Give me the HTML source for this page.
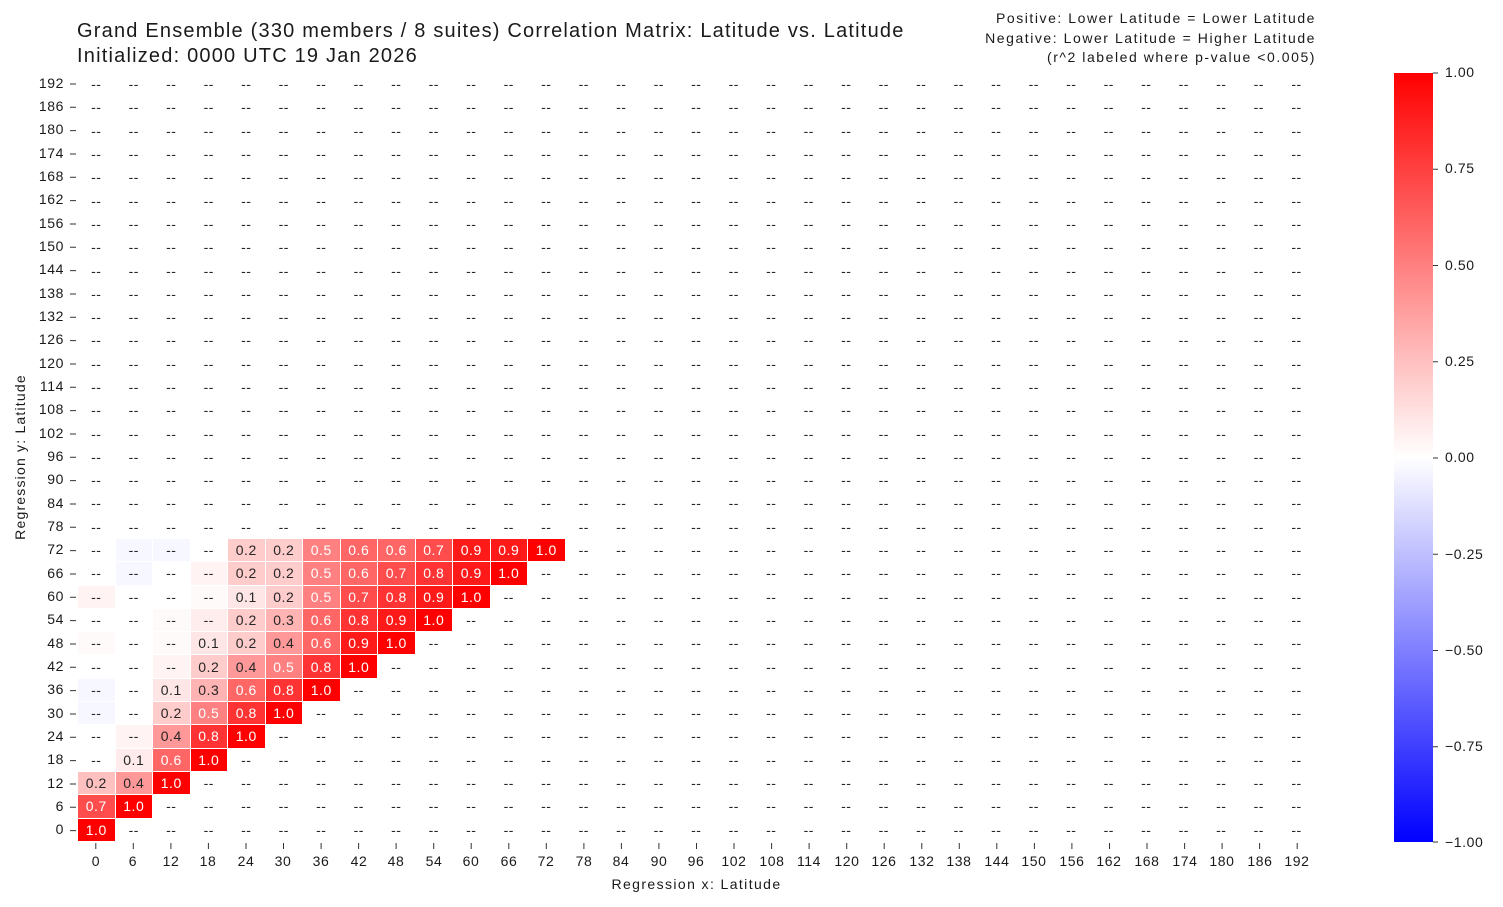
<!DOCTYPE html>
<html><head><meta charset="utf-8"><style>
body{margin:0;width:1503px;height:907px;background:#fff;font-family:"Liberation Sans",sans-serif;color:#1a1a1a;position:relative;overflow:hidden}
.abs{position:absolute}
table{position:absolute;left:77px;top:72px;width:1239px;height:770px;border-collapse:collapse;table-layout:fixed}
td{border:1px solid #fff;padding:0;text-align:center;font-size:14px;color:#262626;line-height:14px;white-space:nowrap;overflow:hidden;letter-spacing:0.5px}
.a1{background:#ffe6e6}.a2{background:#ffcccc}.a3{background:#ffb3b3}.a4{background:#ff9999}.a5{background:#ff8080;color:#fff}.a6{background:#ff6666;color:#fff}.a7{background:#ff4d4d;color:#fff}.a8{background:#ff3333;color:#fff}.a9{background:#ff1a1a;color:#fff}.a10{background:#ff0000;color:#fff}
.f{background:#fff3f3}.g{background:#fffafa}.b{background:#f7f7ff}
.yl{position:absolute;left:20px;width:44px;text-align:right;font-size:14px;letter-spacing:0.6px}
.xl{position:absolute;top:853px;width:40px;text-align:center;font-size:14px;letter-spacing:0.6px}
.cl{position:absolute;left:1445px;font-size:14px;letter-spacing:0.6px}
</style></head><body>
<div class="abs" style="left:77px;top:19px;font-size:20px;line-height:25px;letter-spacing:1.2px;white-space:nowrap">Grand Ensemble (330 members / 8 suites) Correlation Matrix: Latitude vs. Latitude<br>Initialized: 0000 UTC 19 Jan 2026</div>
<div class="abs" style="right:187px;top:9px;font-size:14px;line-height:19.5px;text-align:right;letter-spacing:1.55px;white-space:nowrap">Positive: Lower Latitude = Lower Latitude<br>Negative: Lower Latitude = Higher Latitude<br>(r^2 labeled where p-value &lt;0.005)</div>
<div class="abs" style="left:-40px;top:445px;width:120px;height:24px;transform:rotate(-90deg);transform-origin:center;font-size:14px;white-space:nowrap;display:flex;justify-content:center;align-items:center;letter-spacing:1.2px"><span>Regression y: Latitude</span></div>
<div class="abs" style="left:77px;width:1239px;top:876px;text-align:center;font-size:14px;letter-spacing:1.4px">Regression x: Latitude</div>

<table>
<tr><td>--</td><td>--</td><td>--</td><td>--</td><td>--</td><td>--</td><td>--</td><td>--</td><td>--</td><td>--</td><td>--</td><td>--</td><td>--</td><td>--</td><td>--</td><td>--</td><td>--</td><td>--</td><td>--</td><td>--</td><td>--</td><td>--</td><td>--</td><td>--</td><td>--</td><td>--</td><td>--</td><td>--</td><td>--</td><td>--</td><td>--</td><td>--</td><td>--</td></tr>
<tr><td>--</td><td>--</td><td>--</td><td>--</td><td>--</td><td>--</td><td>--</td><td>--</td><td>--</td><td>--</td><td>--</td><td>--</td><td>--</td><td>--</td><td>--</td><td>--</td><td>--</td><td>--</td><td>--</td><td>--</td><td>--</td><td>--</td><td>--</td><td>--</td><td>--</td><td>--</td><td>--</td><td>--</td><td>--</td><td>--</td><td>--</td><td>--</td><td>--</td></tr>
<tr><td>--</td><td>--</td><td>--</td><td>--</td><td>--</td><td>--</td><td>--</td><td>--</td><td>--</td><td>--</td><td>--</td><td>--</td><td>--</td><td>--</td><td>--</td><td>--</td><td>--</td><td>--</td><td>--</td><td>--</td><td>--</td><td>--</td><td>--</td><td>--</td><td>--</td><td>--</td><td>--</td><td>--</td><td>--</td><td>--</td><td>--</td><td>--</td><td>--</td></tr>
<tr><td>--</td><td>--</td><td>--</td><td>--</td><td>--</td><td>--</td><td>--</td><td>--</td><td>--</td><td>--</td><td>--</td><td>--</td><td>--</td><td>--</td><td>--</td><td>--</td><td>--</td><td>--</td><td>--</td><td>--</td><td>--</td><td>--</td><td>--</td><td>--</td><td>--</td><td>--</td><td>--</td><td>--</td><td>--</td><td>--</td><td>--</td><td>--</td><td>--</td></tr>
<tr><td>--</td><td>--</td><td>--</td><td>--</td><td>--</td><td>--</td><td>--</td><td>--</td><td>--</td><td>--</td><td>--</td><td>--</td><td>--</td><td>--</td><td>--</td><td>--</td><td>--</td><td>--</td><td>--</td><td>--</td><td>--</td><td>--</td><td>--</td><td>--</td><td>--</td><td>--</td><td>--</td><td>--</td><td>--</td><td>--</td><td>--</td><td>--</td><td>--</td></tr>
<tr><td>--</td><td>--</td><td>--</td><td>--</td><td>--</td><td>--</td><td>--</td><td>--</td><td>--</td><td>--</td><td>--</td><td>--</td><td>--</td><td>--</td><td>--</td><td>--</td><td>--</td><td>--</td><td>--</td><td>--</td><td>--</td><td>--</td><td>--</td><td>--</td><td>--</td><td>--</td><td>--</td><td>--</td><td>--</td><td>--</td><td>--</td><td>--</td><td>--</td></tr>
<tr><td>--</td><td>--</td><td>--</td><td>--</td><td>--</td><td>--</td><td>--</td><td>--</td><td>--</td><td>--</td><td>--</td><td>--</td><td>--</td><td>--</td><td>--</td><td>--</td><td>--</td><td>--</td><td>--</td><td>--</td><td>--</td><td>--</td><td>--</td><td>--</td><td>--</td><td>--</td><td>--</td><td>--</td><td>--</td><td>--</td><td>--</td><td>--</td><td>--</td></tr>
<tr><td>--</td><td>--</td><td>--</td><td>--</td><td>--</td><td>--</td><td>--</td><td>--</td><td>--</td><td>--</td><td>--</td><td>--</td><td>--</td><td>--</td><td>--</td><td>--</td><td>--</td><td>--</td><td>--</td><td>--</td><td>--</td><td>--</td><td>--</td><td>--</td><td>--</td><td>--</td><td>--</td><td>--</td><td>--</td><td>--</td><td>--</td><td>--</td><td>--</td></tr>
<tr><td>--</td><td>--</td><td>--</td><td>--</td><td>--</td><td>--</td><td>--</td><td>--</td><td>--</td><td>--</td><td>--</td><td>--</td><td>--</td><td>--</td><td>--</td><td>--</td><td>--</td><td>--</td><td>--</td><td>--</td><td>--</td><td>--</td><td>--</td><td>--</td><td>--</td><td>--</td><td>--</td><td>--</td><td>--</td><td>--</td><td>--</td><td>--</td><td>--</td></tr>
<tr><td>--</td><td>--</td><td>--</td><td>--</td><td>--</td><td>--</td><td>--</td><td>--</td><td>--</td><td>--</td><td>--</td><td>--</td><td>--</td><td>--</td><td>--</td><td>--</td><td>--</td><td>--</td><td>--</td><td>--</td><td>--</td><td>--</td><td>--</td><td>--</td><td>--</td><td>--</td><td>--</td><td>--</td><td>--</td><td>--</td><td>--</td><td>--</td><td>--</td></tr>
<tr><td>--</td><td>--</td><td>--</td><td>--</td><td>--</td><td>--</td><td>--</td><td>--</td><td>--</td><td>--</td><td>--</td><td>--</td><td>--</td><td>--</td><td>--</td><td>--</td><td>--</td><td>--</td><td>--</td><td>--</td><td>--</td><td>--</td><td>--</td><td>--</td><td>--</td><td>--</td><td>--</td><td>--</td><td>--</td><td>--</td><td>--</td><td>--</td><td>--</td></tr>
<tr><td>--</td><td>--</td><td>--</td><td>--</td><td>--</td><td>--</td><td>--</td><td>--</td><td>--</td><td>--</td><td>--</td><td>--</td><td>--</td><td>--</td><td>--</td><td>--</td><td>--</td><td>--</td><td>--</td><td>--</td><td>--</td><td>--</td><td>--</td><td>--</td><td>--</td><td>--</td><td>--</td><td>--</td><td>--</td><td>--</td><td>--</td><td>--</td><td>--</td></tr>
<tr><td>--</td><td>--</td><td>--</td><td>--</td><td>--</td><td>--</td><td>--</td><td>--</td><td>--</td><td>--</td><td>--</td><td>--</td><td>--</td><td>--</td><td>--</td><td>--</td><td>--</td><td>--</td><td>--</td><td>--</td><td>--</td><td>--</td><td>--</td><td>--</td><td>--</td><td>--</td><td>--</td><td>--</td><td>--</td><td>--</td><td>--</td><td>--</td><td>--</td></tr>
<tr><td>--</td><td>--</td><td>--</td><td>--</td><td>--</td><td>--</td><td>--</td><td>--</td><td>--</td><td>--</td><td>--</td><td>--</td><td>--</td><td>--</td><td>--</td><td>--</td><td>--</td><td>--</td><td>--</td><td>--</td><td>--</td><td>--</td><td>--</td><td>--</td><td>--</td><td>--</td><td>--</td><td>--</td><td>--</td><td>--</td><td>--</td><td>--</td><td>--</td></tr>
<tr><td>--</td><td>--</td><td>--</td><td>--</td><td>--</td><td>--</td><td>--</td><td>--</td><td>--</td><td>--</td><td>--</td><td>--</td><td>--</td><td>--</td><td>--</td><td>--</td><td>--</td><td>--</td><td>--</td><td>--</td><td>--</td><td>--</td><td>--</td><td>--</td><td>--</td><td>--</td><td>--</td><td>--</td><td>--</td><td>--</td><td>--</td><td>--</td><td>--</td></tr>
<tr><td>--</td><td>--</td><td>--</td><td>--</td><td>--</td><td>--</td><td>--</td><td>--</td><td>--</td><td>--</td><td>--</td><td>--</td><td>--</td><td>--</td><td>--</td><td>--</td><td>--</td><td>--</td><td>--</td><td>--</td><td>--</td><td>--</td><td>--</td><td>--</td><td>--</td><td>--</td><td>--</td><td>--</td><td>--</td><td>--</td><td>--</td><td>--</td><td>--</td></tr>
<tr><td>--</td><td>--</td><td>--</td><td>--</td><td>--</td><td>--</td><td>--</td><td>--</td><td>--</td><td>--</td><td>--</td><td>--</td><td>--</td><td>--</td><td>--</td><td>--</td><td>--</td><td>--</td><td>--</td><td>--</td><td>--</td><td>--</td><td>--</td><td>--</td><td>--</td><td>--</td><td>--</td><td>--</td><td>--</td><td>--</td><td>--</td><td>--</td><td>--</td></tr>
<tr><td>--</td><td>--</td><td>--</td><td>--</td><td>--</td><td>--</td><td>--</td><td>--</td><td>--</td><td>--</td><td>--</td><td>--</td><td>--</td><td>--</td><td>--</td><td>--</td><td>--</td><td>--</td><td>--</td><td>--</td><td>--</td><td>--</td><td>--</td><td>--</td><td>--</td><td>--</td><td>--</td><td>--</td><td>--</td><td>--</td><td>--</td><td>--</td><td>--</td></tr>
<tr><td>--</td><td>--</td><td>--</td><td>--</td><td>--</td><td>--</td><td>--</td><td>--</td><td>--</td><td>--</td><td>--</td><td>--</td><td>--</td><td>--</td><td>--</td><td>--</td><td>--</td><td>--</td><td>--</td><td>--</td><td>--</td><td>--</td><td>--</td><td>--</td><td>--</td><td>--</td><td>--</td><td>--</td><td>--</td><td>--</td><td>--</td><td>--</td><td>--</td></tr>
<tr><td>--</td><td>--</td><td>--</td><td>--</td><td>--</td><td>--</td><td>--</td><td>--</td><td>--</td><td>--</td><td>--</td><td>--</td><td>--</td><td>--</td><td>--</td><td>--</td><td>--</td><td>--</td><td>--</td><td>--</td><td>--</td><td>--</td><td>--</td><td>--</td><td>--</td><td>--</td><td>--</td><td>--</td><td>--</td><td>--</td><td>--</td><td>--</td><td>--</td></tr>
<tr><td>--</td><td class="b">--</td><td class="b">--</td><td>--</td><td class="a2">0.2</td><td class="a2">0.2</td><td class="a5">0.5</td><td class="a6">0.6</td><td class="a6">0.6</td><td class="a7">0.7</td><td class="a9">0.9</td><td class="a9">0.9</td><td class="a10">1.0</td><td>--</td><td>--</td><td>--</td><td>--</td><td>--</td><td>--</td><td>--</td><td>--</td><td>--</td><td>--</td><td>--</td><td>--</td><td>--</td><td>--</td><td>--</td><td>--</td><td>--</td><td>--</td><td>--</td><td>--</td></tr>
<tr><td>--</td><td class="b">--</td><td>--</td><td class="f">--</td><td class="a2">0.2</td><td class="a2">0.2</td><td class="a5">0.5</td><td class="a6">0.6</td><td class="a7">0.7</td><td class="a8">0.8</td><td class="a9">0.9</td><td class="a10">1.0</td><td>--</td><td>--</td><td>--</td><td>--</td><td>--</td><td>--</td><td>--</td><td>--</td><td>--</td><td>--</td><td>--</td><td>--</td><td>--</td><td>--</td><td>--</td><td>--</td><td>--</td><td>--</td><td>--</td><td>--</td><td>--</td></tr>
<tr><td class="f">--</td><td>--</td><td>--</td><td class="g">--</td><td class="a1">0.1</td><td class="a2">0.2</td><td class="a5">0.5</td><td class="a7">0.7</td><td class="a8">0.8</td><td class="a9">0.9</td><td class="a10">1.0</td><td>--</td><td>--</td><td>--</td><td>--</td><td>--</td><td>--</td><td>--</td><td>--</td><td>--</td><td>--</td><td>--</td><td>--</td><td>--</td><td>--</td><td>--</td><td>--</td><td>--</td><td>--</td><td>--</td><td>--</td><td>--</td><td>--</td></tr>
<tr><td>--</td><td>--</td><td class="g">--</td><td style="background:#ffeded">--</td><td class="a2">0.2</td><td class="a3">0.3</td><td class="a6">0.6</td><td class="a8">0.8</td><td class="a9">0.9</td><td class="a10">1.0</td><td>--</td><td>--</td><td>--</td><td>--</td><td>--</td><td>--</td><td>--</td><td>--</td><td>--</td><td>--</td><td>--</td><td>--</td><td>--</td><td>--</td><td>--</td><td>--</td><td>--</td><td>--</td><td>--</td><td>--</td><td>--</td><td>--</td><td>--</td></tr>
<tr><td class="g">--</td><td>--</td><td class="g">--</td><td class="a1">0.1</td><td class="a2">0.2</td><td class="a4">0.4</td><td class="a6">0.6</td><td class="a9">0.9</td><td class="a10">1.0</td><td>--</td><td>--</td><td>--</td><td>--</td><td>--</td><td>--</td><td>--</td><td>--</td><td>--</td><td>--</td><td>--</td><td>--</td><td>--</td><td>--</td><td>--</td><td>--</td><td>--</td><td>--</td><td>--</td><td>--</td><td>--</td><td>--</td><td>--</td><td>--</td></tr>
<tr><td>--</td><td>--</td><td class="f">--</td><td class="a2">0.2</td><td class="a4">0.4</td><td class="a5">0.5</td><td class="a8">0.8</td><td class="a10">1.0</td><td>--</td><td>--</td><td>--</td><td>--</td><td>--</td><td>--</td><td>--</td><td>--</td><td>--</td><td>--</td><td>--</td><td>--</td><td>--</td><td>--</td><td>--</td><td>--</td><td>--</td><td>--</td><td>--</td><td>--</td><td>--</td><td>--</td><td>--</td><td>--</td><td>--</td></tr>
<tr><td class="b">--</td><td>--</td><td class="a1">0.1</td><td class="a3">0.3</td><td class="a6">0.6</td><td class="a8">0.8</td><td class="a10">1.0</td><td>--</td><td>--</td><td>--</td><td>--</td><td>--</td><td>--</td><td>--</td><td>--</td><td>--</td><td>--</td><td>--</td><td>--</td><td>--</td><td>--</td><td>--</td><td>--</td><td>--</td><td>--</td><td>--</td><td>--</td><td>--</td><td>--</td><td>--</td><td>--</td><td>--</td><td>--</td></tr>
<tr><td class="b">--</td><td>--</td><td class="a2">0.2</td><td class="a5">0.5</td><td class="a8">0.8</td><td class="a10">1.0</td><td>--</td><td>--</td><td>--</td><td>--</td><td>--</td><td>--</td><td>--</td><td>--</td><td>--</td><td>--</td><td>--</td><td>--</td><td>--</td><td>--</td><td>--</td><td>--</td><td>--</td><td>--</td><td>--</td><td>--</td><td>--</td><td>--</td><td>--</td><td>--</td><td>--</td><td>--</td><td>--</td></tr>
<tr><td>--</td><td class="f">--</td><td class="a4">0.4</td><td class="a8">0.8</td><td class="a10">1.0</td><td>--</td><td>--</td><td>--</td><td>--</td><td>--</td><td>--</td><td>--</td><td>--</td><td>--</td><td>--</td><td>--</td><td>--</td><td>--</td><td>--</td><td>--</td><td>--</td><td>--</td><td>--</td><td>--</td><td>--</td><td>--</td><td>--</td><td>--</td><td>--</td><td>--</td><td>--</td><td>--</td><td>--</td></tr>
<tr><td>--</td><td style="background:#ffebeb">0.1</td><td class="a6">0.6</td><td class="a10">1.0</td><td>--</td><td>--</td><td>--</td><td>--</td><td>--</td><td>--</td><td>--</td><td>--</td><td>--</td><td>--</td><td>--</td><td>--</td><td>--</td><td>--</td><td>--</td><td>--</td><td>--</td><td>--</td><td>--</td><td>--</td><td>--</td><td>--</td><td>--</td><td>--</td><td>--</td><td>--</td><td>--</td><td>--</td><td>--</td></tr>
<tr><td style="background:#ffc0c0">0.2</td><td class="a4">0.4</td><td class="a10">1.0</td><td>--</td><td>--</td><td>--</td><td>--</td><td>--</td><td>--</td><td>--</td><td>--</td><td>--</td><td>--</td><td>--</td><td>--</td><td>--</td><td>--</td><td>--</td><td>--</td><td>--</td><td>--</td><td>--</td><td>--</td><td>--</td><td>--</td><td>--</td><td>--</td><td>--</td><td>--</td><td>--</td><td>--</td><td>--</td><td>--</td></tr>
<tr><td class="a7">0.7</td><td class="a10">1.0</td><td>--</td><td>--</td><td>--</td><td>--</td><td>--</td><td>--</td><td>--</td><td>--</td><td>--</td><td>--</td><td>--</td><td>--</td><td>--</td><td>--</td><td>--</td><td>--</td><td>--</td><td>--</td><td>--</td><td>--</td><td>--</td><td>--</td><td>--</td><td>--</td><td>--</td><td>--</td><td>--</td><td>--</td><td>--</td><td>--</td><td>--</td></tr>
<tr><td class="a10">1.0</td><td>--</td><td>--</td><td>--</td><td>--</td><td>--</td><td>--</td><td>--</td><td>--</td><td>--</td><td>--</td><td>--</td><td>--</td><td>--</td><td>--</td><td>--</td><td>--</td><td>--</td><td>--</td><td>--</td><td>--</td><td>--</td><td>--</td><td>--</td><td>--</td><td>--</td><td>--</td><td>--</td><td>--</td><td>--</td><td>--</td><td>--</td><td>--</td></tr>
</table>

<svg class="abs" style="left:0;top:0" width="1503" height="907">
<g stroke="#333" stroke-width="1">
<path d="M70 84h6M70 107.3h6M70 130.6h6M70 154h6M70 177.3h6M70 200.6h6M70 224h6M70 247.3h6M70 270.6h6M70 294h6M70 317.3h6M70 340.6h6M70 364h6M70 387.3h6M70 410.6h6M70 434h6M70 457.3h6M70 480.6h6M70 504h6M70 527.3h6M70 550.6h6M70 574h6M70 597.3h6M70 620.6h6M70 644h6M70 667.3h6M70 690.6h6M70 714h6M70 737.3h6M70 760.6h6M70 784h6M70 807.3h6M70 830.6h6"/>
<path d="M95.8 843v6M133.3 843v6M170.9 843v6M208.4 843v6M246 843v6M283.5 843v6M321.1 843v6M358.6 843v6M396.1 843v6M433.7 843v6M471.2 843v6M508.8 843v6M546.3 843v6M583.9 843v6M621.4 843v6M658.9 843v6M696.5 843v6M734 843v6M771.6 843v6M809.1 843v6M846.7 843v6M884.2 843v6M921.8 843v6M959.3 843v6M996.8 843v6M1034.4 843v6M1071.9 843v6M1109.5 843v6M1147 843v6M1184.6 843v6M1222.1 843v6M1259.6 843v6M1297.2 843v6"/>
<path d="M1433 73h5M1433 265.5h5M1433 458h5M1433 650.5h5M1433 842h5M1433 169.3h5M1433 361.8h5M1433 554.3h5M1433 746.8h5"/>
</g>
<defs><linearGradient id="cb" x1="0" y1="0" x2="0" y2="1"><stop offset="0" stop-color="#f00"/><stop offset="0.5" stop-color="#fff"/><stop offset="1" stop-color="#00f"/></linearGradient></defs>
<rect x="1394" y="73" width="39" height="769" fill="url(#cb)"/>
</svg>

<div class="cl" style="top:64px">1.00</div>
<div class="cl" style="top:160px">0.75</div>
<div class="cl" style="top:257px">0.50</div>
<div class="cl" style="top:353px">0.25</div>
<div class="cl" style="top:449px">0.00</div>
<div class="cl" style="top:546px">−0.25</div>
<div class="cl" style="top:642px">−0.50</div>
<div class="cl" style="top:738px">−0.75</div>
<div class="cl" style="top:834px">−1.00</div>

<div class="yl" style="top:75px">192</div><div class="yl" style="top:98px">186</div><div class="yl" style="top:121px">180</div><div class="yl" style="top:145px">174</div><div class="yl" style="top:168px">168</div><div class="yl" style="top:191px">162</div><div class="yl" style="top:215px">156</div><div class="yl" style="top:238px">150</div><div class="yl" style="top:261px">144</div><div class="yl" style="top:285px">138</div><div class="yl" style="top:308px">132</div><div class="yl" style="top:331px">126</div><div class="yl" style="top:355px">120</div><div class="yl" style="top:378px">114</div><div class="yl" style="top:401px">108</div><div class="yl" style="top:425px">102</div><div class="yl" style="top:448px">96</div><div class="yl" style="top:471px">90</div><div class="yl" style="top:495px">84</div><div class="yl" style="top:518px">78</div><div class="yl" style="top:541px">72</div><div class="yl" style="top:565px">66</div><div class="yl" style="top:588px">60</div><div class="yl" style="top:611px">54</div><div class="yl" style="top:635px">48</div><div class="yl" style="top:658px">42</div><div class="yl" style="top:681px">36</div><div class="yl" style="top:705px">30</div><div class="yl" style="top:728px">24</div><div class="yl" style="top:751px">18</div><div class="yl" style="top:775px">12</div><div class="yl" style="top:798px">6</div><div class="yl" style="top:821px">0</div>

<div class="xl" style="left:76px">0</div><div class="xl" style="left:113px">6</div><div class="xl" style="left:151px">12</div><div class="xl" style="left:188px">18</div><div class="xl" style="left:226px">24</div><div class="xl" style="left:263px">30</div><div class="xl" style="left:301px">36</div><div class="xl" style="left:339px">42</div><div class="xl" style="left:376px">48</div><div class="xl" style="left:414px">54</div><div class="xl" style="left:451px">60</div><div class="xl" style="left:489px">66</div><div class="xl" style="left:526px">72</div><div class="xl" style="left:564px">78</div><div class="xl" style="left:601px">84</div><div class="xl" style="left:639px">90</div><div class="xl" style="left:676px">96</div><div class="xl" style="left:714px">102</div><div class="xl" style="left:752px">108</div><div class="xl" style="left:789px">114</div><div class="xl" style="left:827px">120</div><div class="xl" style="left:864px">126</div><div class="xl" style="left:902px">132</div><div class="xl" style="left:939px">138</div><div class="xl" style="left:977px">144</div><div class="xl" style="left:1014px">150</div><div class="xl" style="left:1052px">156</div><div class="xl" style="left:1089px">162</div><div class="xl" style="left:1127px">168</div><div class="xl" style="left:1165px">174</div><div class="xl" style="left:1202px">180</div><div class="xl" style="left:1240px">186</div><div class="xl" style="left:1277px">192</div>
</body></html>
